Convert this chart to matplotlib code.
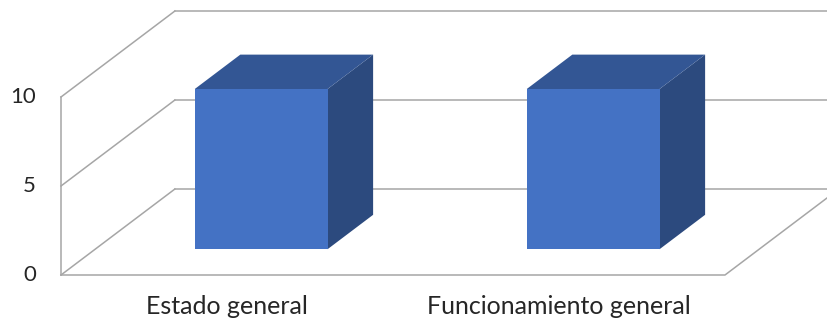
import matplotlib.pyplot as plt
from matplotlib.patches import Polygon

# Chart data
categories = ['Estado general', 'Funcionamiento general']
values = [9, 9]
y_ticks = [0, 5, 10]

# Oblique 3D projection settings (category units / value units)
depth_dx = 0.343     # shift of the back wall in category units
depth_dy = 4.83      # shift of the back wall in value units
gap_width = 1.5      # Excel style gap width (150%)
bar_front, bar_back = 0.3, 0.7   # bar depth range inside the floor
ymax = 10
n = len(categories)


def proj(x, y, d):
    # x: category position, y: value, d: depth 0 (front) .. 1 (back)
    return (x + depth_dx * d, y + depth_dy * d)


grid_color = '#A6A6A6'
face_color = '#4472C4'
top_color = '#335694'
side_color = '#2C4A7E'
text_color = '#262626'

fig = plt.figure(figsize=(8.28, 3.22), dpi=100)
ax = fig.add_axes([0, 0, 1, 1])
px_x = 332.0
px_y = 17.8
ax.set_xlim(-61 / px_x, (828 - 61) / px_x)
ax.set_ylim(-(322 - 275) / px_y, 275 / px_y)
ax.axis('off')

# Walls and floor
xr = n + depth_dx
for t in y_ticks:
    x0, y0 = proj(0, t, 0)
    x1, y1 = proj(0, t, 1)
    ax.plot([x0, x1], [y0, y1], color=grid_color, lw=1.1, zorder=1)
    ax.plot([x1, xr + 1], [y1, y1], color=grid_color, lw=1.1, zorder=1)
ax.plot([0, 0], [0, ymax], color=grid_color, lw=1.1, zorder=1)
fx, fy = proj(n, 0, 1)
ax.plot([0, n, fx], [0, 0, fy], color=grid_color, lw=1.1, zorder=1)

# Bars
w = 1 / (1 + gap_width)
for i, v in enumerate(values):
    xl = i + 0.5 - w / 2
    xr_ = i + 0.5 + w / 2
    front = [proj(xl, 0, bar_front), proj(xr_, 0, bar_front),
             proj(xr_, v, bar_front), proj(xl, v, bar_front)]
    top = [proj(xl, v, bar_front), proj(xr_, v, bar_front),
           proj(xr_, v, bar_back), proj(xl, v, bar_back)]
    side = [proj(xr_, 0, bar_front), proj(xr_, 0, bar_back),
            proj(xr_, v, bar_back), proj(xr_, v, bar_front)]
    ax.add_patch(Polygon(side, closed=True, fc=side_color, ec='none', zorder=3))
    ax.add_patch(Polygon(top, closed=True, fc=top_color, ec='none', zorder=3))
    ax.add_patch(Polygon(front, closed=True, fc=face_color, ec='none', zorder=4))

# Axis labels
for t in y_ticks:
    ax.text(-25 / px_x, t, str(t), ha='right', va='center',
            fontsize=16, family='Lato', color=text_color)
for i, c in enumerate(categories):
    ax.text(i + 0.5, -1.75, c, ha='center', va='center',
            fontsize=18, family='Lato', color=text_color)

fig.savefig('out.png', dpi=100)
